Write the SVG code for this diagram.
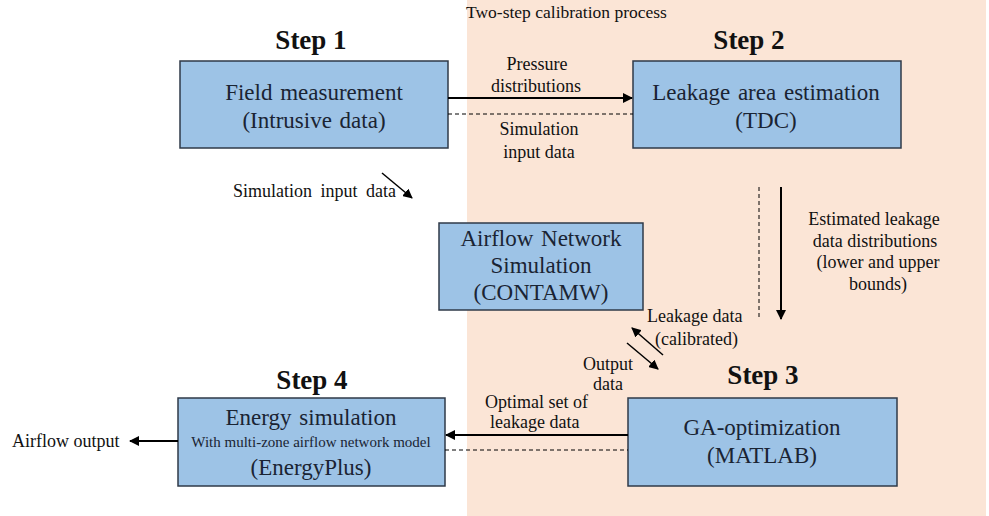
<svg xmlns="http://www.w3.org/2000/svg" width="989" height="516" viewBox="0 0 989 516">
<style>
text{font-family:"Liberation Serif","Times New Roman",serif;fill:#111}
.box{fill:#9dc3e6;stroke:#2f3a48;stroke-width:1.5}
.bt{font-size:23px;text-anchor:middle;fill:#1a2433;word-spacing:2px}
.step{font-size:27px;font-weight:bold;text-anchor:middle}
.lbl{font-size:18px}
.c{text-anchor:middle}
.solid{stroke:#000;stroke-width:2;fill:none}
.thin{stroke:#000;stroke-width:1.5;fill:none}
.dash{stroke:#000;stroke-width:1;stroke-dasharray:4 3;fill:none}
</style>
<defs>
<marker id="ah" viewBox="0 0 10 10" refX="9" refY="5" markerWidth="5" markerHeight="5" orient="auto" markerUnits="strokeWidth">
<path d="M0,0 L10,5 L0,10 z" fill="#000"/>
</marker>
<marker id="ah2" viewBox="0 0 10 10" refX="9" refY="5" markerWidth="6.5" markerHeight="6.5" orient="auto" markerUnits="strokeWidth">
<path d="M0,0 L10,5 L0,10 z" fill="#000"/>
</marker>
</defs>
<rect x="0" y="0" width="989" height="516" fill="#fff"/>
<rect x="467" y="0" width="519" height="516" fill="#fbe5d6"/>
<text x="466" y="18" style="font-size:17.5px">Two-step calibration process</text>

<text class="step" x="311" y="49">Step 1</text>
<text class="step" x="749" y="49">Step 2</text>
<text class="step" x="763" y="384">Step 3</text>
<text class="step" x="312" y="389">Step 4</text>

<g id="field">
<rect class="box" x="180" y="61" width="268" height="87"/>
<text class="bt" x="314" y="100">Field measurement</text>
<text class="bt" x="314" y="128">(Intrusive data)</text>
</g>
<g id="leakage">
<rect class="box" x="633" y="61" width="268" height="87"/>
<text class="bt" x="766" y="100">Leakage area estimation</text>
<text class="bt" x="766" y="128">(TDC)</text>
</g>
<g id="airflow">
<rect class="box" x="439" y="223" width="204" height="87"/>
<text class="bt" x="541" y="246">Airflow Network</text>
<text class="bt" x="541" y="273">Simulation</text>
<text class="bt" x="541" y="300">(CONTAMW)</text>
</g>
<g id="ga">
<rect class="box" x="628" y="398" width="269" height="88"/>
<text class="bt" x="762" y="435">GA-optimization</text>
<text class="bt" x="762" y="463">(MATLAB)</text>
</g>
<g id="energy">
<rect class="box" x="178" y="398" width="267" height="88"/>
<text class="bt" x="311" y="425">Energy simulation</text>
<text x="311" y="447" style="font-size:15px;text-anchor:middle;fill:#1a2433">With multi-zone airflow network model</text>
<text class="bt" x="311" y="475">(EnergyPlus)</text>
</g>

<g id="connectors">
<line class="solid" x1="448" y1="98" x2="632" y2="98" marker-end="url(#ah)"/>
<line class="dash" x1="448" y1="114" x2="633" y2="114"/>
<line class="thin" x1="382" y1="173" x2="412" y2="198" marker-end="url(#ah2)"/>
<line class="dash" x1="759" y1="187" x2="759" y2="320"/>
<line class="solid" x1="781" y1="187" x2="781" y2="319" marker-end="url(#ah)"/>
<line class="thin" x1="663" y1="355" x2="632" y2="328" marker-end="url(#ah2)"/>
<line class="thin" x1="627" y1="343" x2="658" y2="369" marker-end="url(#ah2)"/>
<line class="solid" x1="628" y1="435" x2="446" y2="435" marker-end="url(#ah)"/>
<line class="dash" x1="445" y1="450" x2="628" y2="450"/>
<line class="solid" x1="178" y1="441" x2="130" y2="441" marker-end="url(#ah)"/>
</g>

<g id="labels">
<text class="lbl c" x="537" y="70">Pressure</text>
<text class="lbl c" x="536" y="92">distributions</text>
<text class="lbl c" x="539" y="135">Simulation</text>
<text class="lbl c" x="539" y="158">input data</text>
<text class="lbl" x="233" y="197" style="word-spacing:4px">Simulation input data</text>
<text class="lbl c" x="874" y="225">Estimated leakage</text>
<text class="lbl c" x="875" y="247">data distributions</text>
<text class="lbl c" x="878" y="268">(lower and upper</text>
<text class="lbl c" x="878" y="290">bounds)</text>
<text class="lbl" x="647" y="322">Leakage data</text>
<text class="lbl" x="655" y="345">(calibrated)</text>
<text class="lbl c" x="608" y="370">Output</text>
<text class="lbl c" x="608" y="390">data</text>
<text class="lbl" x="485" y="408">Optimal set of</text>
<text class="lbl" x="490" y="428">leakage data</text>
<text class="lbl" x="12" y="447">Airflow output</text>
</g>
</svg>
